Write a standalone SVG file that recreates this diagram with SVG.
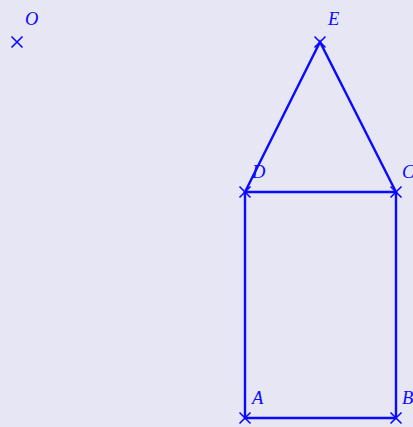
<svg xmlns="http://www.w3.org/2000/svg" width="413" height="427" viewBox="0 0 413 427">
<style>
.bg{fill:#E6E6F5}
.ln{stroke:#0A0AFF;stroke-width:2.4;fill:none}
.cr{stroke:#0A0AFF;stroke-width:1.6;fill:none}
.lb{font-family:"Liberation Serif",serif;font-style:italic;font-size:18.5px;fill:#0A0AFF}
</style>
<defs>
<path id="x" class="cr" d="M-5.5,-5.5L5.5,5.5M-5.5,5.5L5.5,-5.5"/>
</defs>
<rect class="bg" width="413" height="427"/>
<g id="connectors">
<path class="ln" d="M245,192L320,42L396,192Z"/>
<path class="ln" d="M245,192L245,418L396,418L396,192"/>
</g>
<g id="O"><use href="#x" x="17" y="42"/><text class="lb" x="25" y="25">O</text></g>
<g id="E"><use href="#x" x="320" y="42"/><text class="lb" x="328" y="25">E</text></g>
<g id="D"><use href="#x" x="245" y="192"/><text class="lb" x="252" y="178">D</text></g>
<g id="C"><use href="#x" x="396" y="192"/><text class="lb" x="402" y="178">C</text></g>
<g id="A"><use href="#x" x="245" y="418"/><text class="lb" x="252" y="404">A</text></g>
<g id="B"><use href="#x" x="396" y="418"/><text class="lb" x="402" y="404">B</text></g>
</svg>
